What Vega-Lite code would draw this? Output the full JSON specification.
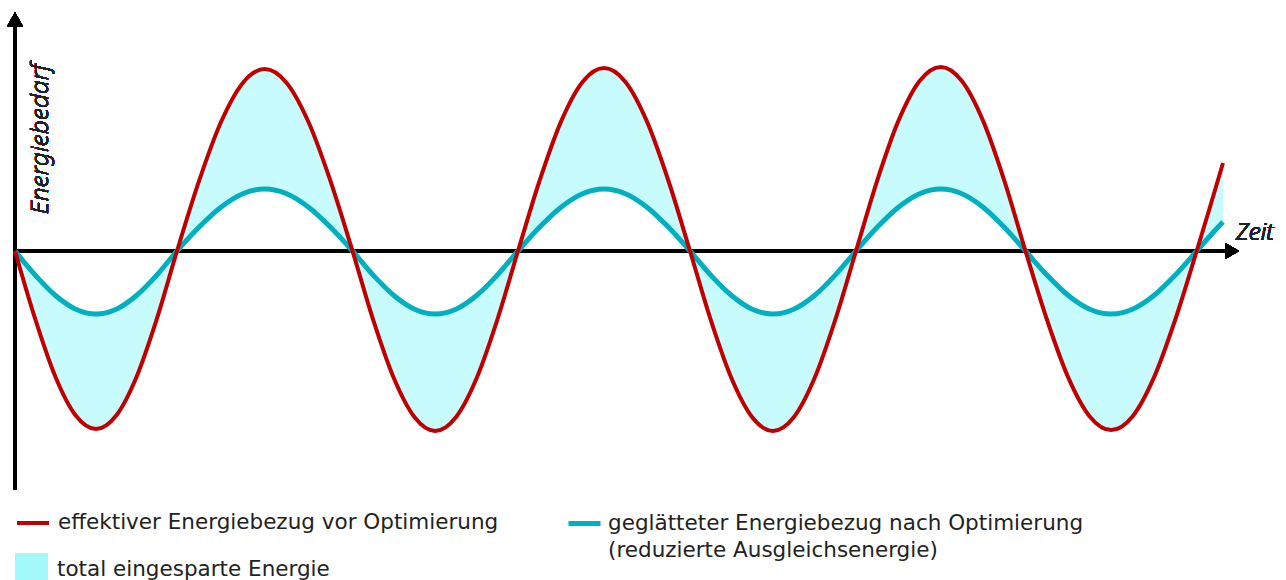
{
  "$schema": "https://vega.github.io/schema/vega-lite/v6.json",
  "width": 1286,
  "height": 580,
  "autosize": {"type": "none"},
  "padding": 0,
  "background": "white",
  "config": {
    "view": {"stroke": null},
    "font": "DejaVu Sans",
    "legend": {
      "labelFont": "DejaVu Sans",
      "labelFontSize": 21.5,
      "labelColor": "#222222",
      "labelLimit": 0,
      "padding": 0,
      "offset": 0,
      "title": null
    }
  },
  "data": {
    "values": [
      {"t": 0, "vorher": 0, "nachher": 0},
      {"t": 20.25, "vorher": -68.1, "nachher": -24.1},
      {"t": 40.5, "vorher": -125.9, "nachher": -44.5},
      {"t": 60.75, "vorher": -164.5, "nachher": -58.2},
      {"t": 81, "vorher": -178, "nachher": -63},
      {"t": 101.25, "vorher": -164.5, "nachher": -58.2},
      {"t": 121.5, "vorher": -125.9, "nachher": -44.5},
      {"t": 141.75, "vorher": -68.1, "nachher": -24.1},
      {"t": 162, "vorher": 0, "nachher": 0},
      {"t": 183.9, "vorher": 69.6, "nachher": 23.7},
      {"t": 205.9, "vorher": 128.7, "nachher": 43.8},
      {"t": 227.8, "vorher": 168.1, "nachher": 57.3},
      {"t": 249.75, "vorher": 182, "nachher": 62},
      {"t": 271.7, "vorher": 168.1, "nachher": 57.3},
      {"t": 293.6, "vorher": 128.7, "nachher": 43.8},
      {"t": 315.6, "vorher": 69.6, "nachher": 23.7},
      {"t": 337.5, "vorher": 0, "nachher": 0},
      {"t": 358.2, "vorher": -68.9, "nachher": -24.1},
      {"t": 378.9, "vorher": -127.3, "nachher": -44.5},
      {"t": 399.6, "vorher": -166.3, "nachher": -58.2},
      {"t": 420.25, "vorher": -180, "nachher": -63},
      {"t": 440.9, "vorher": -166.3, "nachher": -58.2},
      {"t": 461.6, "vorher": -127.3, "nachher": -44.5},
      {"t": 482.3, "vorher": -68.9, "nachher": -24.1},
      {"t": 503, "vorher": 0, "nachher": 0},
      {"t": 524.5, "vorher": 70.0, "nachher": 23.7},
      {"t": 546, "vorher": 129.4, "nachher": 43.8},
      {"t": 567.5, "vorher": 169.1, "nachher": 57.3},
      {"t": 589, "vorher": 183, "nachher": 62},
      {"t": 610.5, "vorher": 169.1, "nachher": 57.3},
      {"t": 632, "vorher": 129.4, "nachher": 43.8},
      {"t": 653.5, "vorher": 70.0, "nachher": 23.7},
      {"t": 675, "vorher": 0, "nachher": 0},
      {"t": 695.75, "vorher": -68.9, "nachher": -24.1},
      {"t": 716.5, "vorher": -127.3, "nachher": -44.5},
      {"t": 737.25, "vorher": -166.3, "nachher": -58.2},
      {"t": 758, "vorher": -180, "nachher": -63},
      {"t": 778.75, "vorher": -166.3, "nachher": -58.2},
      {"t": 799.5, "vorher": -127.3, "nachher": -44.5},
      {"t": 820.25, "vorher": -68.9, "nachher": -24.1},
      {"t": 841, "vorher": 0, "nachher": 0},
      {"t": 862.2, "vorher": 70.4, "nachher": 23.7},
      {"t": 883.4, "vorher": 130.1, "nachher": 43.8},
      {"t": 904.6, "vorher": 170.0, "nachher": 57.3},
      {"t": 925.75, "vorher": 184, "nachher": 62},
      {"t": 946.9, "vorher": 170.0, "nachher": 57.3},
      {"t": 968.1, "vorher": 130.1, "nachher": 43.8},
      {"t": 989.3, "vorher": 70.4, "nachher": 23.7},
      {"t": 1010.5, "vorher": 0, "nachher": 0},
      {"t": 1031.9, "vorher": -68.5, "nachher": -24.1},
      {"t": 1053.3, "vorher": -126.6, "nachher": -44.5},
      {"t": 1074.7, "vorher": -165.4, "nachher": -58.2},
      {"t": 1096.1, "vorher": -179, "nachher": -63},
      {"t": 1117.5, "vorher": -165.4, "nachher": -58.2},
      {"t": 1138.9, "vorher": -126.6, "nachher": -44.5},
      {"t": 1160.3, "vorher": -68.5, "nachher": -24.1},
      {"t": 1181.7, "vorher": 0, "nachher": 0},
      {"t": 1195, "vorher": 44, "nachher": 15},
      {"t": 1208, "vorher": 88, "nachher": 29}
    ]
  },
  "layer": [
    {
      "mark": {"type": "area", "interpolate": "monotone", "fillOpacity": 0.6},
      "encoding": {
        "x": {"field": "t", "type": "quantitative", "scale": {"domain": [-15, 1271], "nice": false, "zero": false}, "axis": null},
        "y": {"field": "vorher", "type": "quantitative", "scale": {"domain": [-329, 251], "nice": false, "zero": false}, "axis": null},
        "y2": {"field": "nachher"},
        "fill": {
          "datum": "total eingesparte Energie",
          "scale": {"range": ["#a3f9f9"]},
          "legend": {"orient": "none", "legendX": 15, "legendY": 553, "symbolType": "square", "symbolSize": 1089, "symbolOpacity": 1, "symbolStrokeWidth": 0, "labelOffset": 9}
        }
      }
    },
    {
      "mark": {"type": "rule", "color": "black", "strokeWidth": 3},
      "encoding": {
        "x": {"datum": 0, "type": "quantitative"},
        "y": {"datum": -239, "type": "quantitative"},
        "y2": {"datum": 224}
      }
    },
    {
      "mark": {"type": "rule", "color": "black", "strokeWidth": 3},
      "encoding": {
        "x": {"datum": 0, "type": "quantitative"},
        "x2": {"datum": 1210},
        "y": {"datum": 0, "type": "quantitative"}
      }
    },
    {
      "mark": {"type": "point", "shape": "triangle-up", "filled": true, "color": "black", "size": 256, "opacity": 1},
      "encoding": {
        "x": {"datum": 0, "type": "quantitative"},
        "y": {"datum": 231.5, "type": "quantitative"}
      }
    },
    {
      "mark": {"type": "point", "shape": "triangle-right", "filled": true, "color": "black", "size": 256, "opacity": 1},
      "encoding": {
        "x": {"datum": 1217, "type": "quantitative"},
        "y": {"datum": 0, "type": "quantitative"}
      }
    },
    {
      "mark": {"type": "line", "interpolate": "monotone", "strokeWidth": 5},
      "encoding": {
        "x": {"field": "t", "type": "quantitative"},
        "y": {"field": "nachher", "type": "quantitative"},
        "color": {
          "datum": "geglätteter Energiebezug nach Optimierung",
          "scale": {"range": ["#00b0c0"]},
          "legend": {"orient": "none", "legendX": 566, "legendY": 505, "symbolType": "stroke", "symbolSize": 1024, "symbolStrokeWidth": 5, "labelOffset": 5, "labelExpr": "[datum.label, '(reduzierte Ausgleichsenergie)']", "encode": {"labels": {"update": {"lineHeight": {"value": 27}}}}}
        }
      }
    },
    {
      "mark": {"type": "line", "interpolate": "monotone", "strokeWidth": 4},
      "encoding": {
        "x": {"field": "t", "type": "quantitative"},
        "y": {"field": "vorher", "type": "quantitative"},
        "stroke": {
          "datum": "effektiver Energiebezug vor Optimierung",
          "scale": {"range": ["#c00000"]},
          "legend": {"orient": "none", "legendX": 15, "legendY": 505, "symbolType": "stroke", "symbolSize": 1024, "symbolStrokeWidth": 4, "labelOffset": 7}
        }
      }
    },
    {
      "mark": {"type": "text", "text": "Energiebedarf", "angle": 270, "align": "center", "baseline": "middle", "font": "Noto Sans", "fontStyle": "italic", "fontWeight": 300, "fontSize": 24.5, "fill": "#222222", "stroke": null, "strokeWidth": 0},
      "encoding": {
        "x": {"datum": 26, "type": "quantitative"},
        "y": {"datum": 112, "type": "quantitative"}
      }
    },
    {
      "mark": {"type": "text", "text": "Zeit", "align": "left", "baseline": "alphabetic", "font": "Noto Sans", "fontStyle": "italic", "fontWeight": 300, "fontSize": 24, "fill": "#222222", "stroke": null, "strokeWidth": 0},
      "encoding": {
        "x": {"datum": 1221, "type": "quantitative"},
        "y": {"datum": 11, "type": "quantitative"}
      }
    }
  ]
}
